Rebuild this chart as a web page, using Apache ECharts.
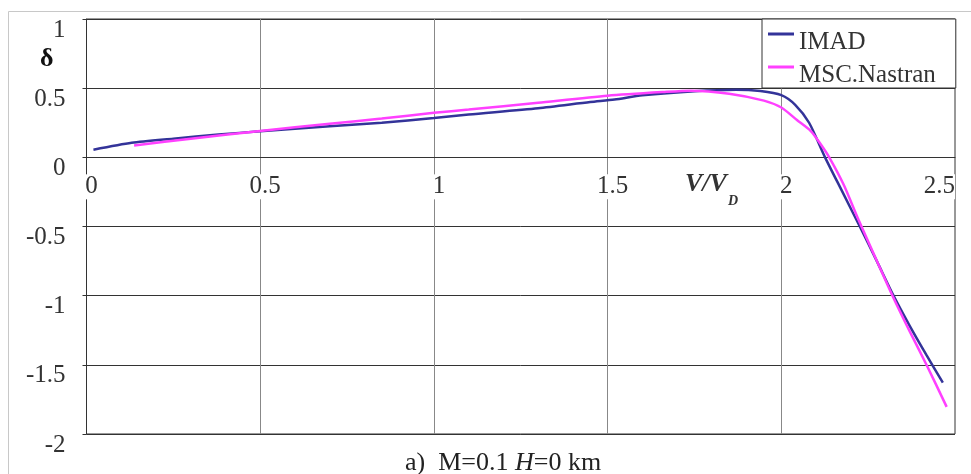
<!DOCTYPE html>
<html><head><meta charset="utf-8">
<script src="https://cdn.jsdelivr.net/npm/echarts@6/dist/echarts.min.js"></script>
<style>html,body{margin:0;padding:0;background:#fff}#c{width:971px;height:474px}</style>
</head><body><div id="c"></div>
<script>
const FONT = '"Liberation Serif", "Times New Roman", serif';
const seriesNames = ['IMAD', 'MSC.Nastran'];
const imadData = [
  [0.02,0.055],[0.13,0.105],[0.25,0.135],[0.38,0.165],[0.5,0.188],[0.7,0.224],[0.85,0.25],
  [1.0,0.285],[1.1,0.31],[1.3,0.355],[1.45,0.4],[1.52,0.418],[1.6,0.448],[1.75,0.478],
  [1.87,0.489],[1.94,0.479],[2.0,0.45],[2.04,0.38],[2.08,0.25],[2.126,0.0],[2.176,-0.25],
  [2.226,-0.5],[2.275,-0.75],[2.323,-1.0],[2.37,-1.22],[2.418,-1.43],[2.465,-1.628]
];
const mscData = [
  [0.137,0.085],[0.3,0.135],[0.5,0.19],[0.7,0.243],[0.85,0.28],[1.0,0.322],[1.1,0.345],
  [1.3,0.395],[1.5,0.445],[1.66,0.472],[1.74,0.482],[1.85,0.46],[1.95,0.41],[2.0,0.36],
  [2.045,0.27],[2.085,0.19],[2.112,0.1],[2.138,0.0],[2.18,-0.2],[2.222,-0.45],
  [2.27,-0.72],[2.32,-1.0],[2.37,-1.26],[2.42,-1.51],[2.476,-1.804]
];
const xRange = [0, 2.5, 0.5];
const yRange = [-2, 1, 0.5];
const captionParts = ['a)  M=0.1 ', 'H', '=0 km'];
const xName = ['V/V', 'D'];
const yName = 'δ';

const GRID = {left: 86.5, right: 16, top: 19, bottom: 40};
const plotH = 474 - GRID.top - GRID.bottom;
// shift x axis (line + labels) up from the bottom to the y = 0 level
const zeroOffset = -plotH * (0 - yRange[0]) / (yRange[1] - yRange[0]);

const chart = echarts.init(document.getElementById('c'), null, {renderer: 'canvas'});
chart.setOption({
  animation: false,
  backgroundColor: '#fff',
  grid: Object.assign({show: true, borderColor: '#333', borderWidth: 1, backgroundColor: 'transparent'}, GRID),
  xAxis: {
    type: 'value', min: xRange[0], max: xRange[1], interval: xRange[2],
    position: 'bottom', offset: zeroOffset,
    axisLine: {onZero: false, lineStyle: {color: '#333', width: 1}},
    axisTick: {show: false},
    splitLine: {show: true, showMinLine: false, showMaxLine: false, lineStyle: {color: '#888', width: 1}},
    axisLabel: {fontFamily: FONT, fontSize: 25, color: '#333', margin: 17, padding: [0, 0, 0, 10],
      backgroundColor: '#fff', alignMaxLabel: 'right', formatter: v => String(v)}
  },
  yAxis: {
    type: 'value', min: yRange[0], max: yRange[1], interval: yRange[2],
    axisLine: {onZero: false, show: true, lineStyle: {color: '#333', width: 1}},
    axisTick: {show: true, length: 4, lineStyle: {color: '#333'}},
    splitLine: {show: true, lineStyle: {color: '#333', width: 1}},
    axisLabel: {fontFamily: FONT, fontSize: 25, color: '#333', margin: 21, lineHeight: 22,
      verticalAlign: 'top', formatter: v => String(v)}
  },
  legend: {
    left: 762, top: 19, orient: 'vertical',
    icon: 'path://M0,0h26v3h-26z M0,19h26v0h-26z',
    itemWidth: 26, itemHeight: 19, itemGap: 7,
    itemStyle: {borderWidth: 0},
    padding: [10, 20, 0, 6], backgroundColor: '#fff', borderColor: '#333', borderWidth: 1,
    textStyle: {fontFamily: FONT, fontSize: 25, color: '#333', lineHeight: 26},
    data: seriesNames
  },
  series: [
    {name: seriesNames[0], type: 'line', data: imadData, showSymbol: false, symbol: 'none',
      smooth: 0.25, color: '#333399', lineStyle: {color: '#333399', width: 2.5}},
    {name: seriesNames[1], type: 'line', data: mscData, showSymbol: false, symbol: 'none',
      smooth: 0.25, color: '#ff40ff', lineStyle: {color: '#ff40ff', width: 2.5}}
  ],
  graphic: [
    {type: 'rect', z: -10, silent: true, shape: {x: 8.5, y: 11.5, width: 975, height: 500},
      style: {fill: 'none', stroke: '#c8c8c8', lineWidth: 1}},
    {type: 'text', x: 40, y: 59, style: {text: yName, font: 'bold 26px ' + FONT, fill: '#111', verticalAlign: 'middle'}},
    {type: 'text', x: 685, y: 184, style: {text: xName[0], font: 'italic bold 26px ' + FONT, fill: '#333', verticalAlign: 'middle'}},
    {type: 'text', x: 728, y: 201, style: {text: xName[1], font: 'italic bold 14px ' + FONT, fill: '#333', verticalAlign: 'middle'}},
    {type: 'text', x: 405, y: 463, style: {
      text: '{n|' + captionParts[0] + '}{i|' + captionParts[1] + '}{n|' + captionParts[2] + '}',
      verticalAlign: 'middle',
      rich: {
        n: {font: '26px ' + FONT, fill: '#222'},
        i: {font: 'italic 26px ' + FONT, fill: '#222'}
      }}}
  ]
});
</script></body></html>
